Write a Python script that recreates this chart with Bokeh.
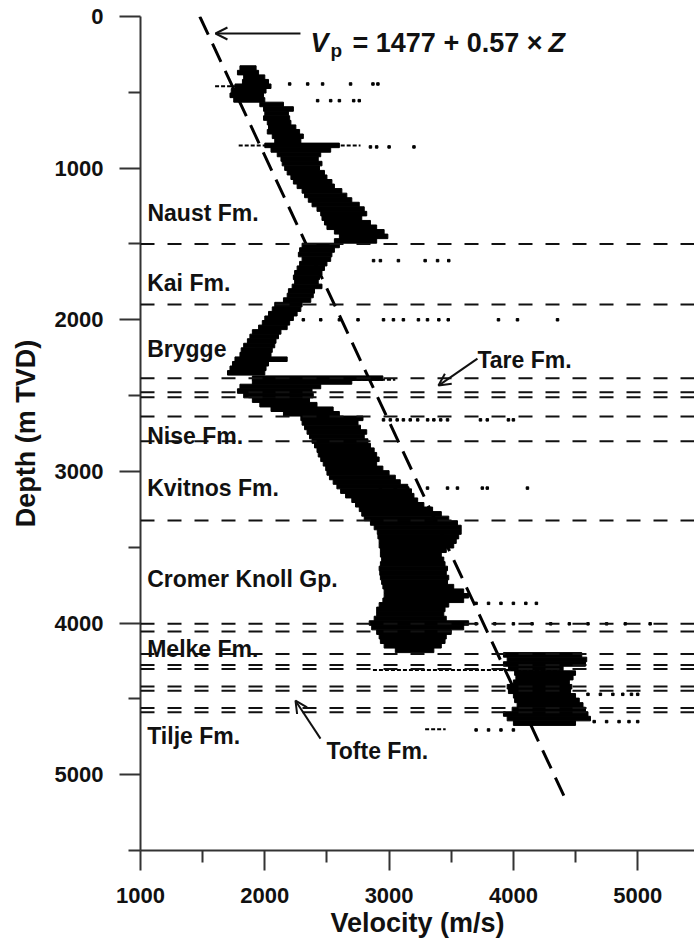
from bokeh.plotting import figure
from bokeh.models import FixedTicker, Span, Arrow, OpenHead
from bokeh.core.properties import value
from bokeh.embed import file_html
from bokeh.resources import INLINE

# ---------------- data ----------------
# main velocity-log band: depth (m TVD), min / max velocity (m/s)
band_depth = [340, 370, 400, 430, 460, 490, 520, 550, 580, 610, 640, 670, 700, 730, 760, 790, 820,
              850, 880, 910, 940, 970, 1000, 1030, 1060, 1090, 1120, 1150, 1180, 1210, 1240, 1270,
              1300, 1330, 1360, 1390, 1420, 1450, 1480,
              1510, 1540, 1570, 1600, 1630, 1660, 1690, 1720, 1750, 1780, 1810, 1840, 1870,
              1900, 1930, 1960, 1990, 2020, 2050, 2080, 2110, 2140, 2170, 2200, 2230, 2260, 2290,
              2320, 2350,
              2385, 2410, 2440, 2470, 2500, 2530, 2560, 2590, 2620,
              2650, 2680, 2710, 2740, 2770,
              2800, 2830, 2860, 2890, 2920, 2950, 2980, 3010, 3040, 3070, 3100, 3130, 3160, 3190,
              3220, 3250, 3280, 3310,
              3340, 3370, 3400, 3430, 3460, 3490, 3520, 3550, 3580, 3610, 3640, 3670, 3700, 3730,
              3760, 3790, 3820, 3850, 3880, 3910, 3940, 3970, 4000, 4030, 4060, 4090, 4120, 4150,
              4180,
              4210, 4240, 4270, 4300, 4330, 4360, 4390, 4420, 4450, 4480, 4510, 4540, 4570, 4600,
              4630, 4660]
band_vmin = [1800, 1780, 1830, 1820, 1760, 1730, 1720, 1750, 1960, 1990, 2000, 1990, 2020, 2030, 2020, 2060, 2080,
             2000, 2050, 2100, 2130, 2140, 2160, 2180, 2210, 2230, 2260, 2300, 2320, 2350, 2380, 2420,
             2450, 2460, 2480, 2500, 2560, 2600, 2560,
             2300, 2280, 2270, 2300, 2280, 2260, 2240, 2230, 2240, 2220, 2190, 2180, 2150,
             2080, 2060, 2030, 2000, 1980, 1950, 1900, 1880, 1860, 1830, 1810, 1800, 1760, 1740,
             1720, 1700,
             1900, 1900, 1800, 1780, 1830, 1900, 1960, 2050, 2150,
             2290, 2300, 2320, 2340, 2360,
             2380, 2400, 2420, 2430, 2450, 2470, 2490, 2500, 2520, 2550, 2580, 2610, 2650, 2700,
             2730, 2760, 2780, 2800,
             2850, 2880, 2905, 2910, 2920, 2920, 2930, 2930, 2940, 2930, 2920, 2925, 2930, 2940,
             2950, 2960, 2960, 2950, 2920, 2900, 2900, 2880, 2840, 2860, 2900, 2920, 2930, 2960,
             3050,
             3920, 3950, 3920, 3960, 4010, 4020, 4000, 3950, 3960, 4000, 4010, 4030, 3990, 3920,
             3950, 4000]
band_vmax = [1930, 1950, 2000, 2030, 2050, 2010, 1990, 2000, 2150, 2230, 2190, 2200, 2210, 2250, 2280, 2310, 2290,
             2600, 2530, 2450, 2430, 2460, 2440, 2480, 2500, 2540, 2560, 2620, 2660, 2700, 2760, 2800,
             2820, 2780, 2850, 2900, 2960, 2990, 2900,
             2600, 2560, 2540, 2530, 2500, 2480, 2460, 2440, 2430, 2460, 2400, 2390, 2370,
             2300, 2290, 2260, 2230, 2200, 2180, 2130, 2110, 2090, 2080, 2060, 2050, 2180, 2030,
             2010, 2000,
             2950, 2700, 2450, 2380, 2390, 2360, 2420, 2550, 2600,
             2790, 2750, 2770, 2820, 2800,
             2830, 2850, 2880, 2900, 2920, 2900, 2950, 3000, 3050, 3090, 3150, 3180, 3200, 3230,
             3280, 3350, 3420, 3480,
             3550, 3580, 3580, 3560, 3540, 3520, 3460, 3420, 3440, 3450, 3470, 3460, 3480, 3470,
             3520, 3600, 3640, 3600, 3480, 3450, 3440, 3460, 3640, 3600, 3500, 3460, 3450, 3420,
             3360,
             4550, 4590, 4580, 4400, 4500, 4480, 4450, 4470, 4460, 4500, 4530, 4560, 4580, 4600,
             4620, 4500]

# thin streaks (depth, from, to)
streak_depth = [460, 850, 2270, 2395, 4310, 4700]
streak_v0 = [1600, 1790, 2000, 2500, 2870, 3290]
streak_v1 = [1760, 2770, 2180, 3050, 4370, 3455]

# isolated outlier samples
outlier_depth = ([445] * 6 + [555] * 5 + [860] * 4 + [1610] * 6 + [2000] * 14 + [2660] * 14 +
                 [3110] * 9 + [3870] * 6 + [4005] * 10 + [4470] * 6 + [4650] * 5 + [4705] * 4)
outlier_v = ([2200, 2345, 2465, 2690, 2870, 2910] +
             [2425, 2530, 2600, 2715, 2760] +
             [2850, 2900, 3000, 3200] +
             [2875, 2930, 3075, 3290, 3390, 3480] +
             [2310, 2450, 2600, 2750, 2955, 3035, 3115, 3236, 3309, 3400, 3476, 3880, 4033, 4355] +
             [2955, 3010, 3065, 3115, 3170, 3230, 3310, 3360, 3415, 3470, 3735, 3790, 3960, 4000] +
             [2930, 3050, 3150, 3309, 3470, 3550, 3750, 3790, 4113] +
             [3700, 3800, 3900, 4000, 4100, 4185] +
             [3700, 3850, 4000, 4150, 4300, 4450, 4600, 4750, 4900, 5100] +
             [4600, 4700, 4800, 4880, 4950, 5000] +
             [4650, 4750, 4850, 4930, 5000] +
             [3700, 3800, 3900, 4000])

# formation boundaries (m TVD)
boundaries = [1500, 1900, 2385, 2478, 2511, 2638, 2801, 3324, 4005, 4055, 4204, 4276, 4303,
              4419, 4446, 4560, 4589]

# linear trend Vp = a + b * Z
trend_a = 1477
trend_b = 0.57
trend_z = [0, 5150]
trend_v = [trend_a + trend_b * z for z in trend_z]

formation_names = ["Naust Fm.", "Kai Fm.", "Brygge", "Nise Fm.", "Kvitnos Fm.",
                   "Cromer Knoll Gp.", "Melke Fm.", "Tilje Fm."]

x_ticks = [1000, 2000, 3000, 4000, 5000]
x_minor = [1500, 2500, 3500, 4500]
y_ticks = [0, 1000, 2000, 3000, 4000, 5000]
y_minor = [500, 1500, 2500, 3500, 4500, 5500]

# ---------------- figure ----------------
FONT = "Liberation Sans"
AX = "#333333"
TXT = "#111111"

p = figure(width=694, height=943, x_range=(1000, 5457), y_range=(5500, 0),
           output_backend="svg", toolbar_location=None,
           min_border_left=140, min_border_top=16, min_border_right=0, min_border_bottom=93)
p.outline_line_color = None
p.grid.visible = False
p.background_fill_color = "white"
p.border_fill_color = "white"

for ax, ticks, minor in ((p.xaxis[0], x_ticks, x_minor), (p.yaxis[0], y_ticks, y_minor)):
    ax.ticker = FixedTicker(ticks=ticks, minor_ticks=minor)
    ax.axis_line_color = AX
    ax.axis_line_width = 2
    ax.major_tick_line_color = AX
    ax.major_tick_line_width = 2
    ax.minor_tick_line_color = AX
    ax.minor_tick_line_width = 2
    ax.major_tick_in = 0
    ax.minor_tick_in = 0
    ax.minor_tick_out = 12
    ax.major_label_text_font = FONT
    ax.major_label_text_font_style = "bold"
    ax.major_label_text_font_size = "22px"
    ax.major_label_text_color = TXT
    ax.axis_label_text_font = FONT
    ax.axis_label_text_font_style = "bold"
    ax.axis_label_text_font_size = "27px"
    ax.axis_label_text_color = TXT

p.xaxis.major_tick_out = 20
p.yaxis.major_tick_out = 21
p.xaxis.major_label_standoff = 17
p.yaxis.major_label_standoff = 16
p.xaxis.axis_label_standoff = 2
p.yaxis.axis_label_standoff = 11
p.xaxis.axis_label = "Velocity (m/s)"
p.yaxis.axis_label = "Depth (m TVD)"

# formation boundary lines
for d in boundaries:
    p.add_layout(Span(location=d, dimension="width", line_color=TXT,
                      line_width=2, line_dash="14 13"))

# velocity log
p.hbar(y=band_depth, left=band_vmin, right=band_vmax, height=30, color="black")
p.segment(x0=streak_v0, y0=streak_depth, x1=streak_v1, y1=streak_depth,
          line_color="black", line_width=2, line_dash="4 2")
p.scatter(x=outlier_v, y=outlier_depth, marker="square", size=2.5, color="black")

# trend line
p.line(x=trend_v, y=trend_z, line_color="black", line_width=3, line_dash="20 10")

# formation labels
lab_x = [1056, 1054, 1054, 1054, 1054, 1054, 1054, 1054]
lab_y = [1293, 1755, 2190, 2768, 3107, 3707, 4169, 4743]
p.text(x=lab_x, y=lab_y, text=formation_names, text_font=value(FONT),
       text_font_style="bold", text_font_size="23px", text_baseline="alphabetic",
       text_align="left", text_color=TXT)
p.text(x=[3711], y=[2262], text=["Tare Fm."], text_font=value(FONT),
       text_font_style="bold", text_font_size="23px", text_baseline="alphabetic",
       text_align="left", text_color=TXT)
p.text(x=[2496], y=[4841], text=["Tofte Fm."], text_font=value(FONT),
       text_font_style="bold", text_font_size="23px", text_baseline="alphabetic",
       text_align="left", text_color=TXT)

# equation
p.text(x=[2368], y=[178], text=["V"], text_font=value(FONT), text_font_style="bold italic",
       text_font_size="27px", text_baseline="alphabetic", text_color=TXT)
p.text(x=[2529], y=[224], text=["p"], text_font=value(FONT), text_font_style="bold",
       text_font_size="19px", text_baseline="alphabetic", text_color=TXT)
p.text(x=[2706], y=[178], text=["= 1477 + 0.57 \u00d7"], text_font=value(FONT),
       text_font_style="bold", text_font_size="27px", text_baseline="alphabetic",
       text_color=TXT)
p.text(x=[4282], y=[178], text=["Z"], text_font=value(FONT), text_font_style="bold italic",
       text_font_size="27px", text_baseline="alphabetic", text_color=TXT)

# arrows
for (xs, ys, xe, ye) in ((2287, 112, 1603, 112), (3711, 2256, 3397, 2434), (2448, 4762, 2247, 4512)):
    p.add_layout(Arrow(end=OpenHead(size=12, line_width=2, line_color=TXT),
                       x_start=xs, y_start=ys, x_end=xe, y_end=ye,
                       line_width=2, line_color=TXT))

open("out.html", "w").write(file_html(p, INLINE))
